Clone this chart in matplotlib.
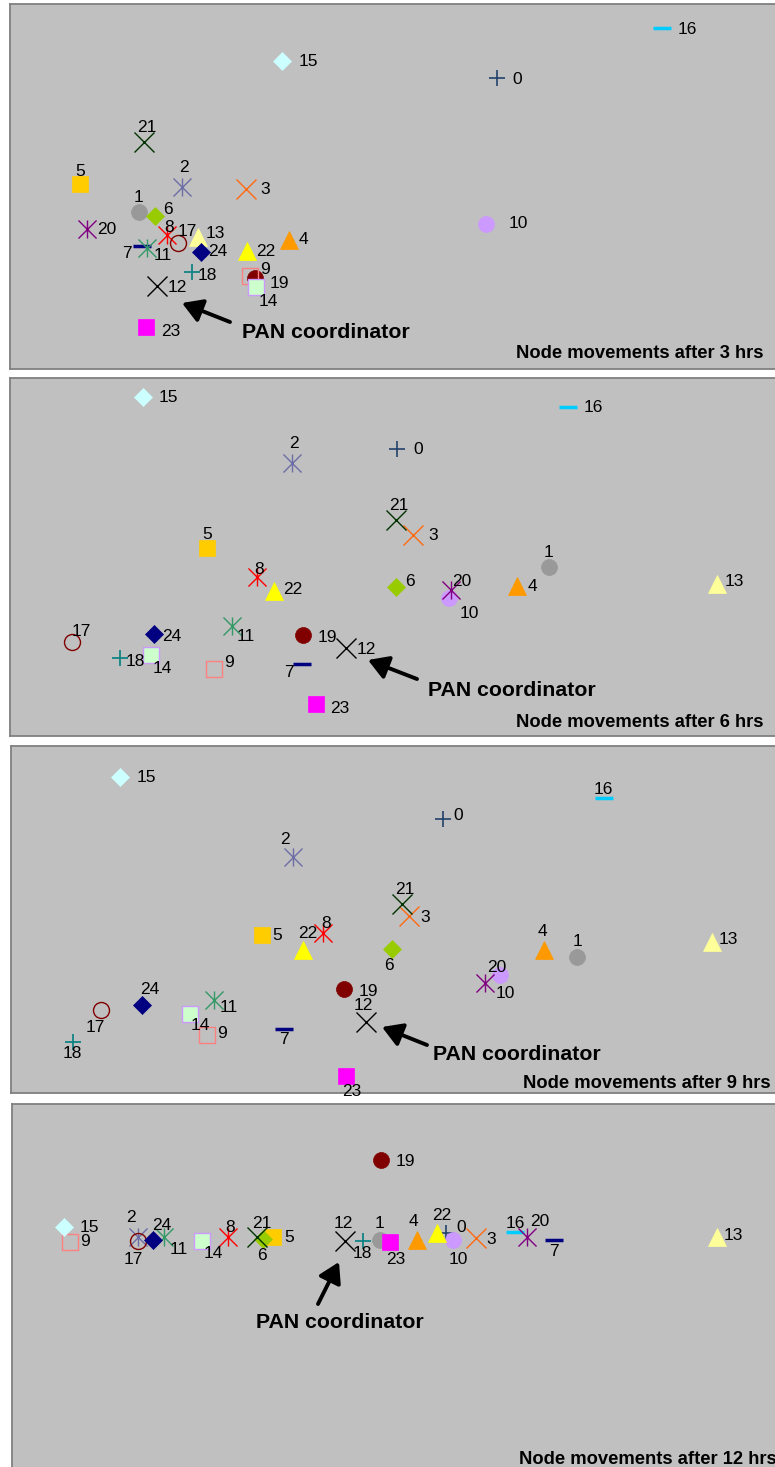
import matplotlib
matplotlib.use("Agg")
import matplotlib.pyplot as plt
from matplotlib.path import Path
from matplotlib.transforms import offset_copy

plt.rcParams['font.family'] = ['Liberation Sans', 'DejaVu Sans']

# node positions (panel units, y measured downward from top of panel)
nodes = list(range(25))
hours = [3, 6, 9, 12]
pan_node = 12

x_3h = [487, 129, 172, 236, 279, 70, 145, 132, 157, 240, 476, 137, 147, 188, 246, 272, 652, 168, 182, 245, 77, 134, 237, 136, 191]
y_3h = [74, 208, 183, 185, 236, 180, 212, 242, 231, 272, 220, 244, 282, 233, 283, 57, 24, 239, 268, 274, 225, 138, 247, 323, 248]
x_6h = [387, 539, 282, 403, 507, 197, 386, 292, 247, 204, 439, 222, 336, 707, 141, 133, 558, 62, 110, 293, 441, 386, 264, 306, 144]
y_6h = [71, 189, 85, 157, 208, 170, 209, 286, 199, 291, 220, 248, 270, 206, 277, 19, 29, 264, 280, 257, 212, 142, 213, 326, 256]
x_9h = [432, 566, 282, 398, 533, 251, 381, 273, 312, 196, 489, 203, 355, 701, 179, 109, 593, 90, 62, 333, 474, 391, 292, 335, 131]
y_9h = [73, 211, 111, 170, 204, 189, 203, 283, 187, 289, 229, 254, 276, 196, 268, 31, 52, 264, 296, 243, 237, 158, 204, 330, 259]
x_12h = [434, 368, 126, 464, 405, 261, 251, 542, 216, 58, 441, 152, 333, 705, 190, 52, 503, 126, 351, 369, 515, 245, 425, 378, 141]
y_12h = [129, 136, 133, 134, 136, 133, 135, 136, 133, 138, 136, 133, 137, 133, 137, 123, 128, 137, 137, 56, 133, 133, 129, 138, 136]

xs_all = [x_3h, x_6h, x_9h, x_12h]
ys_all = [y_3h, y_6h, y_9h, y_12h]

# ---- layout (pixels) ----
W, H = 775, 1467
boxes = [(10, 4, 765, 365), (10, 378, 765, 358), (11, 746, 764, 347), (12, 1104, 763, 376)]

lab_off = [
    [(20, 1), (0, -15), (2, -20), (19, 0), (14, 0), (0, -13), (13, -6), (-15, 7), (2, -8), (15, -7),
     (32, 0), (16, 7), (20, 1), (17, -4), (12, 14), (26, 0), (25, 1), (9, -12), (15, 3), (24, 5),
     (20, 1), (3, -14), (19, 0), (25, 5), (17, 0)],
    [(21, 0), (0, -15), (2, -20), (20, 1), (15, 0), (0, -14), (14, -6), (-13, 8), (2, -8), (15, -7),
     (20, 15), (14, 10), (20, 1), (17, -3), (11, 13), (25, 0), (25, 1), (9, -11), (15, 3), (24, 2),
     (11, -9), (3, -14), (19, -2), (24, 4), (18, 2)],
    [(15, -4), (0, -16), (-8, -18), (16, 2), (-2, -18), (15, 1), (-3, 16), (0, 10), (3, -9), (15, -1),
     (5, 19), (15, 8), (-3, -16), (16, -3), (10, 12), (26, 1), (-1, -8), (-6, 17), (-1, 12), (24, 2),
     (12, -15), (3, -14), (5, -16), (6, 15), (8, -15)],
    [(15, -5), (0, -16), (-7, -20), (15, 1), (-4, -18), (16, 0), (-1, 17), (0, 11), (2, -9), (15, 0),
     (5, 19), (15, 13), (-2, -17), (16, -2), (11, 13), (25, 1), (0, -8), (-5, 19), (-1, 12), (24, 2),
     (13, -15), (5, -14), (5, -17), (6, 17), (9, -15)],
]

# arrow head, arrow tail, text start - relative to the PAN coordinator node
pan_arrow = [
    ((25, 17), (73, 36), (85, 46)),
    ((22, 12), (71, 31), (82, 42)),
    ((16, 5), (61, 23), (67, 33)),
    ((-6, 21), (-27, 63), (-89, 82)),
]
caption_pos = [(753, 15), (753, 14), (760, 9), (765, 21)]

ast = Path([(0, -1), (0, 1), (-1, -1), (1, 1), (-1, 1), (1, -1)],
           [Path.MOVETO, Path.LINETO] * 3)

# marker, size, face, edge, edge width
styles = [
    ('+', 12, 'none', '#23426E', 1.2),
    ('o', 11.5, '#999999', '#999999', 0.5),
    (ast, 13, 'none', '#6E6EA6', 1.0),
    ('x', 14, 'none', '#FF6A10', 1.0),
    ('^', 13, '#FF9900', '#FF9900', 0.5),
    ('s', 12, '#FFCC00', '#FFCC00', 0.5),
    ('D', 8.7, '#99CC00', '#99CC00', 0.5),
    ('_', 13, 'none', '#000080', 2.5),
    (ast, 13, 'none', '#FF0000', 1.0),
    ('s', 12, 'none', '#FF8080', 1.0),
    ('o', 11.5, '#CC99FF', '#CC99FF', 0.5),
    (ast, 13, 'none', '#339966', 1.0),
    ('x', 14, 'none', '#000000', 1.0),
    ('^', 13, '#FFFF99', '#FFFF99', 0.5),
    ('s', 11.5, '#CCFFCC', '#CC99FF', 1.0),
    ('D', 9.5, '#CCFFFF', '#CCFFFF', 0.5),
    ('_', 13, 'none', '#00CCFF', 2.5),
    ('o', 11.5, 'none', '#800000', 1.0),
    ('+', 12, 'none', '#008080', 1.2),
    ('o', 11.5, '#800000', '#800000', 0.5),
    (ast, 13, 'none', '#800080', 1.0),
    ('x', 14, 'none', '#003300', 1.0),
    ('^', 13, '#FFFF00', '#FFFF00', 0.5),
    ('s', 12, '#FF00FF', '#FF00FF', 0.5),
    ('D', 8.7, '#000080', '#000080', 0.5),
]

fig = plt.figure(figsize=(W / 100, H / 100), dpi=100)
fig.patch.set_facecolor('white')

for p in range(4):
    left, top, w, h = boxes[p]
    ax = fig.add_axes([left / W, 1 - (top + h) / H, w / W, h / H])
    ax.set_facecolor('#C0C0C0')
    ax.set_xlim(0, w)
    ax.set_ylim(h, 0)
    ax.set_xticks([])
    ax.set_yticks([])
    for s in ax.spines.values():
        s.set_color('#808080')
        s.set_linewidth(1.3)
    ax.spines['right'].set_visible(False)

    xs, ys = xs_all[p], ys_all[p]
    for n in nodes:
        m, ms, fc, ec, mew = styles[n]
        z = 2.5 if n == 19 else 3
        ax.plot(xs[n], ys[n], linestyle='none', marker=m, markersize=ms,
                markerfacecolor=fc, markeredgecolor=ec, markeredgewidth=mew,
                zorder=z)
        dx, dy = lab_off[p][n]
        ax.annotate(str(n), xy=(xs[n], ys[n]), xytext=(dx, -dy),
                    textcoords='offset pixels', ha='center', va='center',
                    fontsize=12.5, color='black', zorder=4)

    # PAN coordinator arrow
    hd, tl, tx = pan_arrow[p]
    xp, yp = xs[pan_node], ys[pan_node]
    head_tr = offset_copy(ax.transData, fig=fig, x=hd[0], y=-hd[1], units='dots')
    ax.annotate('', xy=(xp, yp), xycoords=head_tr,
                xytext=(tl[0] - hd[0], -(tl[1] - hd[1])), textcoords='offset pixels',
                arrowprops=dict(arrowstyle='-|>,head_length=0.5,head_width=0.3',
                                color='black', lw=2.8,
                                mutation_scale=24, shrinkA=0, shrinkB=0))
    ax.annotate('PAN coordinator', xy=(xp, yp), xytext=(tx[0], -tx[1]),
                textcoords='offset pixels', ha='left', va='center',
                fontsize=15.3, fontweight='bold')

    cx, cy = caption_pos[p]
    ax.annotate('Node movements after %d hrs' % hours[p], xy=(cx, cy),
                xycoords='axes pixels', ha='right', va='center',
                fontsize=13.2, fontweight='bold', annotation_clip=False)

fig.savefig('out.png', dpi=100)
